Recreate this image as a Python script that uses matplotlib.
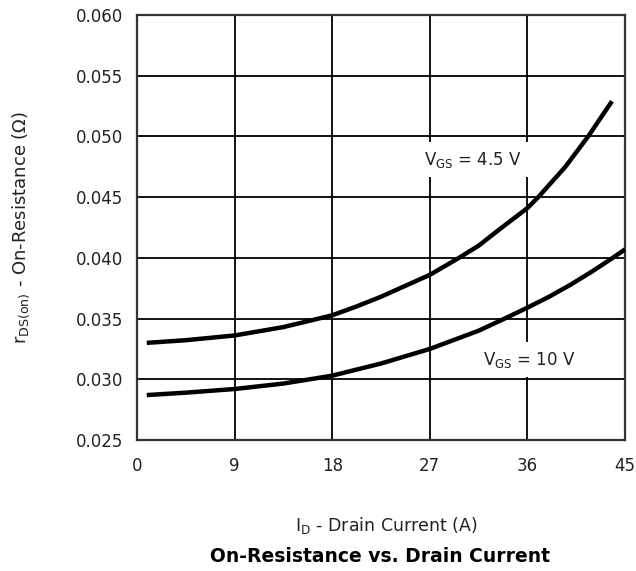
import matplotlib
matplotlib.use("Agg")
import matplotlib.pyplot as plt

plt.rcParams['font.family'] = ['DejaVu Sans']
plt.rcParams['mathtext.fontset'] = 'dejavusans'

# drain current (A) and on-resistance (ohm)
id_45 = [0.9, 4.5, 9, 13.5, 18, 20.25, 22.5, 24.75, 27, 29.5, 31.5, 33.5, 36, 37,
         39.5, 41.6, 43.8]
rds_45 = [0.0330, 0.03322, 0.03361, 0.0343, 0.03527, 0.0360, 0.0368, 0.0377, 0.0386,
          0.0399, 0.0410, 0.0424, 0.0441, 0.0450, 0.0475, 0.0500, 0.0529]

id_10 = [0.9, 4.5, 9, 13.5, 18, 22.5, 27, 31.5, 33.9, 36, 38, 40, 42, 43.7, 45]
rds_10 = [0.0287, 0.0289, 0.0292, 0.02965, 0.0303, 0.0313, 0.0325, 0.0340,
          0.0350, 0.0359, 0.0368, 0.0378, 0.0389, 0.0399, 0.0407]

x_ticks = [0, 9, 18, 27, 36, 45]
y_ticks = [0.025, 0.030, 0.035, 0.040, 0.045, 0.050, 0.055, 0.060]

txt = '#222222'

fig = plt.figure(figsize=(6.36, 5.71), dpi=100)
ax = fig.add_axes([0.2154, 0.2294, 0.7673, 0.7443])

ax.plot(id_45, rds_45, color='black', lw=3.2, solid_capstyle='butt', zorder=3)
ax.plot(id_10, rds_10, color='black', lw=3.2, solid_capstyle='butt', zorder=3)

ax.set_xlim(0, 45)
ax.set_ylim(0.025, 0.060)
ax.set_xticks(x_ticks)
ax.set_yticks(y_ticks)
ax.set_xticklabels([str(t) for t in x_ticks])
ax.set_yticklabels(['%.3f' % t for t in y_ticks])
ax.tick_params(length=0, labelsize=12, colors=txt)
ax.tick_params(axis='x', pad=12)
ax.tick_params(axis='y', pad=10)
ax.grid(True, color='black', lw=1.3, zorder=1)
for s in ax.spines.values():
    s.set_linewidth(1.6)
    s.set_color('#333333')

box = dict(boxstyle='square,pad=0.45', fc='white', ec='none')
ax.text(31.0, 0.0481, r'V$_{\mathrm{GS}}$ = 4.5 V', fontsize=12, color=txt,
        ha='center', va='center', bbox=box, zorder=2)
ax.text(36.2, 0.0316, r'V$_{\mathrm{GS}}$ = 10 V', fontsize=12, color=txt,
        ha='center', va='center', bbox=box, zorder=2)

fig.text(0.033, 0.602, r'r$_{\mathrm{DS(on)}}$ - On-Resistance ($\Omega$)', rotation=90,
         fontsize=13, color=txt, ha='center', va='center')
fig.text(0.607, 0.08, r'I$_{\mathrm{D}}$ - Drain Current (A)', fontsize=12.5,
         color=txt, ha='center', va='center')
fig.text(0.598, 0.025, 'On-Resistance vs. Drain Current', fontsize=13.5,
         fontweight='bold', color='black', ha='center', va='center')

fig.savefig('out.png', dpi=100)
